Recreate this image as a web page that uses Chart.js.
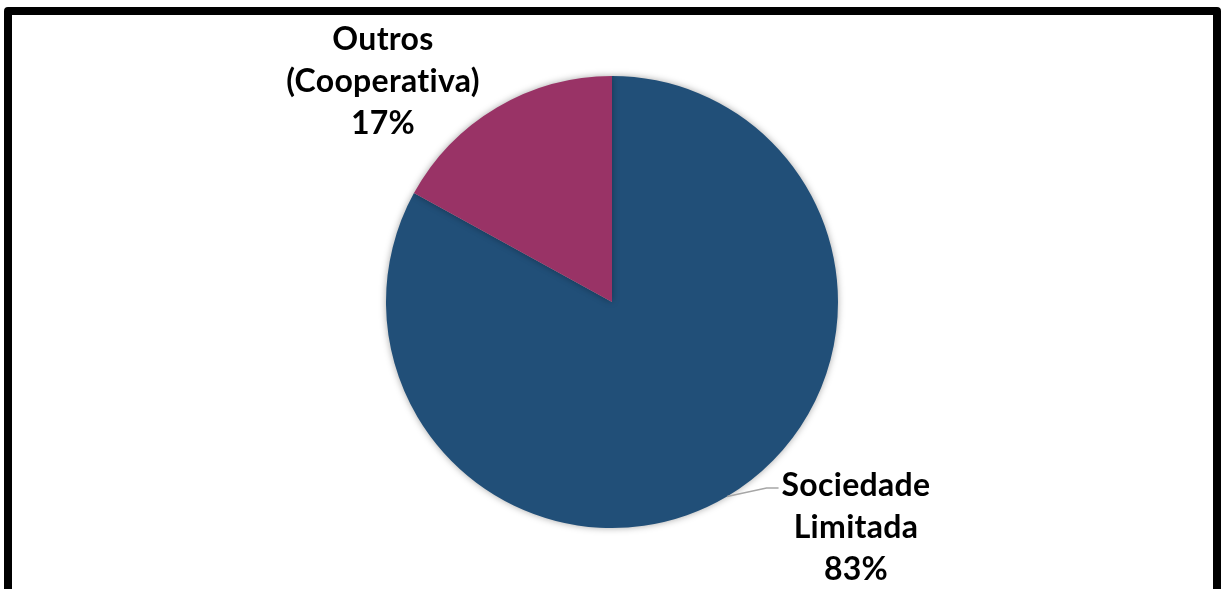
<!DOCTYPE html>
<html>
<head>
<meta charset="utf-8">
<script src="https://cdn.jsdelivr.net/npm/chart.js@4.4.1/dist/chart.umd.min.js"></script>
<style>
  html, body { margin: 0; padding: 0; background: #fff; overflow: hidden; }
  #wrap { position: relative; width: 1223px; height: 589px; }
  #frame { position: absolute; left: 4px; top: 7px; width: 1201px; height: 600px;
           border: 8px solid #000; border-radius: 4px; box-sizing: content-box; pointer-events: none; }
  canvas { position: absolute; left: 0; top: 0; }
</style>
</head>
<body>
<div id="wrap">
  <canvas id="c" width="1223" height="589"></canvas>
  <div id="frame"></div>
</div>
<script>
const categories = ['Sociedade Limitada', 'Outros (Cooperativa)'];
const labelLines = [['Sociedade', 'Limitada'], ['Outros', '(Cooperativa)']];
const values = [83, 17];
const colors = ['#214F78', '#993366'];

// label placement (layout only): offsets of the label block's first-line centre from the pie centre
const labelOffsets = [{dx: 244, dy: 184}, {dx: -229, dy: -262}];
const lineHeight = 42;

const shadowPlugin = {
  id: 'shadow',
  beforeDatasetDraw(chart) {
    const ctx = chart.ctx;
    ctx.save();
    ctx.shadowColor = 'rgba(0,0,0,0.35)';
    ctx.shadowBlur = 7;
    ctx.shadowOffsetX = 0;
    ctx.shadowOffsetY = 0;
  },
  afterDatasetDraw(chart) { chart.ctx.restore(); }
};

const labelPlugin = {
  id: 'pieLabels',
  afterDatasetsDraw(chart) {
    const ctx = chart.ctx;
    const meta = chart.getDatasetMeta(0);
    const total = values.reduce((a, b) => a + b, 0);
    ctx.save();
    ctx.font = 'bold 32px Lato, "Open Sans", sans-serif';
    if ('letterSpacing' in ctx) ctx.letterSpacing = '0.3px';
    ctx.fillStyle = '#000';
    ctx.textAlign = 'center';
    ctx.textBaseline = 'middle';
    meta.data.forEach((arc, i) => {
      const cx = arc.x, cy = arc.y;
      const off = labelOffsets[i];
      const lx = cx + off.dx, ly = cy + off.dy;
      const pct = Math.round(values[i] / total * 100) + '%';
      const lines = labelLines[i].concat([pct]);
      lines.forEach((t, k) => ctx.fillText(t, lx, ly + k * lineHeight));
      if (i === 0) {
        // leader line from arc edge at mid angle to label
        const mid = (arc.startAngle + arc.endAngle) / 2;
        const ex = cx + Math.cos(mid) * arc.outerRadius;
        const ey = cy + Math.sin(mid) * arc.outerRadius;
        const textW = ctx.measureText(lines[0]).width;
        const endX = lx - textW / 2 - 3;
        ctx.strokeStyle = '#A6A6A6';
        ctx.lineWidth = 1.5;
        ctx.beginPath();
        ctx.moveTo(ex, ey);
        ctx.lineTo(endX - 12, ly + 2);
        ctx.lineTo(endX, ly + 2);
        ctx.stroke();
      }
    });
    ctx.restore();
  }
};

new Chart(document.getElementById('c'), {
  type: 'pie',
  data: {
    labels: categories,
    datasets: [{
      data: values,
      backgroundColor: colors,
      borderWidth: 0
    }]
  },
  options: {
    responsive: false,
    animation: false,
    rotation: 0,
    layout: { padding: { top: 76, bottom: 61, left: 1, right: 0 } },
    plugins: {
      legend: { display: false },
      tooltip: { enabled: false },
      title: { display: false }
    }
  },
  plugins: [shadowPlugin, labelPlugin]
});
</script>
</body>
</html>
